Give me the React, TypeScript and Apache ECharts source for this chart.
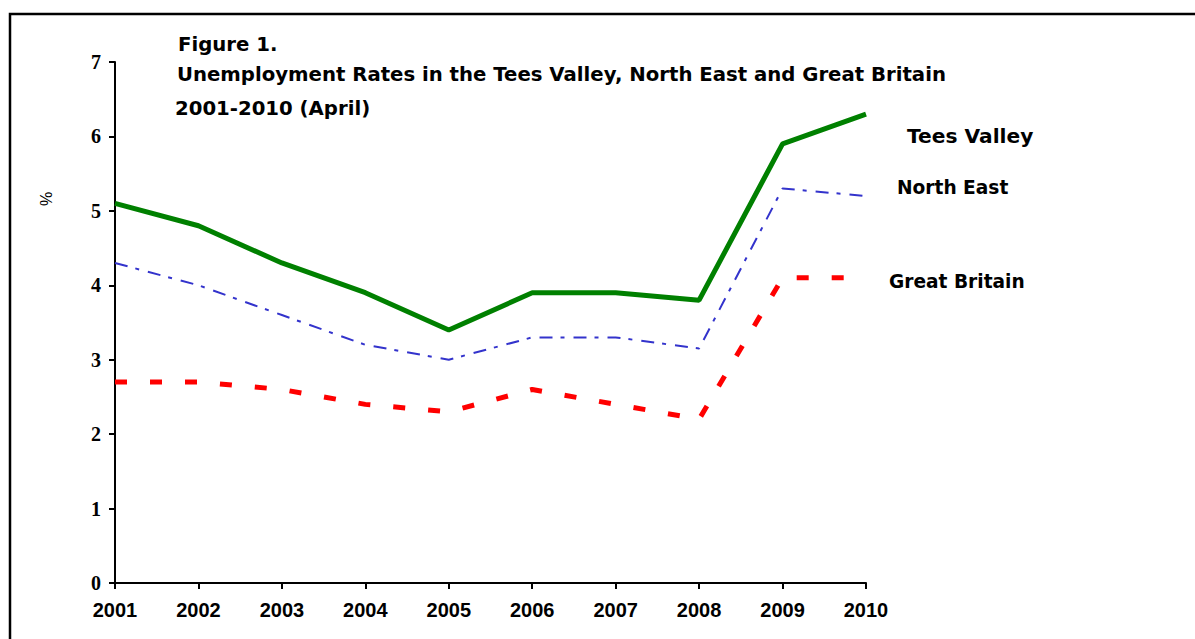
import React, { useEffect, useRef } from "react";
import * as echarts from "echarts";

const years = ["2001", "2002", "2003", "2004", "2005", "2006", "2007", "2008", "2009", "2010"];
const teesValley = [5.1, 4.8, 4.3, 3.9, 3.4, 3.9, 3.9, 3.8, 5.9, 6.3];
const northEast = [4.3, 4.0, 3.6, 3.2, 3.0, 3.3, 3.3, 3.15, 5.3, 5.2];
const greatBritain = [2.7, 2.7, 2.6, 2.4, 2.3, 2.6, 2.4, 2.2, 4.1, 4.1];
const titleLines = [
  "Figure 1.",
  "Unemployment Rates in the Tees Valley, North East and Great Britain",
  "2001-2010 (April)",
];

const SANS = "'Liberation Sans', Arial, sans-serif";
const WIDE = "'DejaVu Sans', 'Liberation Sans', sans-serif";
const SERIF = "'Liberation Serif', 'Times New Roman', serif";

export default function App() {
  const ref = useRef<HTMLDivElement>(null);
  useEffect(() => {
    document.body.style.margin = "0";
    const chart = echarts.init(ref.current!, null, { renderer: "svg" });
    const titleStyle = { fontFamily: WIDE, fontWeight: "bold", fontSize: 19.7, fill: "#000" };
    const labelStyle = { fontFamily: WIDE, fontWeight: "bold", fontSize: 18.6, fill: "#000" };
    chart.setOption({
      animation: false,
      backgroundColor: "#fff",
      grid: { left: 115, right: 329, top: 62, bottom: 56, containLabel: false },
      xAxis: {
        type: "category",
        data: years,
        boundaryGap: false,
        axisLine: { lineStyle: { color: "#000", width: 2 } },
        axisTick: { show: true, length: 6, lineStyle: { color: "#000", width: 2 } },
        axisLabel: { color: "#000", fontFamily: SANS, fontWeight: "bold", fontSize: 20, margin: 17 },
        splitLine: { show: false },
      },
      yAxis: {
        type: "value",
        min: 0,
        max: 7,
        interval: 1,
        axisLine: { show: true, lineStyle: { color: "#000", width: 2 } },
        axisTick: { show: true, length: 6, lineStyle: { color: "#000", width: 2 } },
        axisLabel: { color: "#000", fontFamily: SERIF, fontWeight: "bold", fontSize: 20, margin: 14 },
        splitLine: { show: false },
      },
      series: [
        {
          name: "Tees Valley",
          type: "line",
          data: teesValley,
          symbol: "none",
          lineStyle: { color: "#008000", width: 5 },
        },
        {
          name: "North East",
          type: "line",
          data: northEast,
          symbol: "none",
          lineStyle: { color: "#3333CC", width: 2, type: [13, 8, 4, 9] },
        },
        {
          name: "Great Britain",
          type: "line",
          data: greatBritain,
          symbol: "none",
          lineStyle: { color: "#FF0000", width: 5, type: [12, 23], cap: "butt" },
        },
      ],
      graphic: [
        {
          type: "rect",
          shape: { x: 10, y: 14, width: 1200, height: 640 },
          style: { fill: "none", stroke: "#000", lineWidth: 2.5 },
          silent: true,
        },
        { type: "text", x: 178, y: 34, style: { ...titleStyle, text: titleLines[0] } },
        { type: "text", x: 177, y: 64, style: { ...titleStyle, text: titleLines[1] } },
        { type: "text", x: 175, y: 98, style: { ...titleStyle, text: titleLines[2] } },
        { type: "text", x: 907, y: 126, style: { ...labelStyle, fontSize: 20.2, text: "Tees Valley" } },
        { type: "text", x: 897, y: 178, style: { ...labelStyle, text: "North East" } },
        { type: "text", x: 889, y: 272, style: { ...labelStyle, text: "Great Britain" } },
        {
          type: "text",
          x: 38,
          y: 206,
          rotation: Math.PI / 2,
          style: { fontFamily: SANS, fontSize: 16, fill: "#000", text: "%" },
        },
      ],
    });
    return () => chart.dispose();
  }, []);
  return <div ref={ref} style={{ width: 1195, height: 639 }} />;
}
